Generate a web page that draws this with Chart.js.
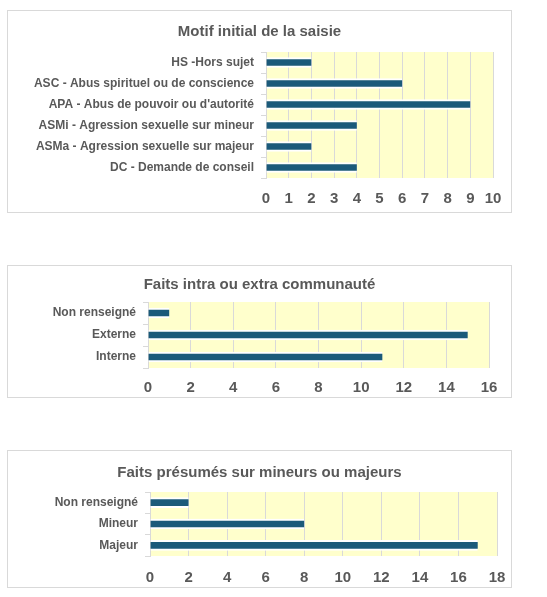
<!DOCTYPE html>
<html>
<head>
<meta charset="utf-8">
<script src="https://cdn.jsdelivr.net/npm/chart.js@4.4.1/dist/chart.umd.min.js"></script>
<style>
  body { margin: 0; background: #fff; width: 547px; height: 597px; position: relative; overflow: hidden; }
  .box { position: absolute; left: 7px; width: 503px; border: 1px solid #d9d9d9; background: #fff; }
  .box canvas { display: block; }
</style>
</head>
<body>
<div class="box" id="box1" style="top:10px;height:201px;"><canvas id="motifChart"></canvas></div>
<div class="box" id="box2" style="top:265px;height:131px;"><canvas id="communauteChart"></canvas></div>
<div class="box" id="box3" style="top:450px;height:136px;"><canvas id="mineursChart"></canvas></div>
<script>
// data
const motifLabels = ['HS -Hors sujet', 'ASC - Abus spirituel ou de conscience', "APA - Abus de pouvoir ou d'autorité",
    'ASMi - Agression sexuelle sur mineur', 'ASMa - Agression sexuelle sur majeur', 'DC - Demande de conseil'];
const motifValues = [2, 6, 9, 4, 2, 4];

const communauteLabels = ['Non renseigné', 'Externe', 'Interne'];
const communauteValues = [1, 15, 11];

const mineursLabels = ['Non renseigné', 'Mineur', 'Majeur'];
const mineursValues = [2, 8, 17];

const textColor = '#595959';
const fontFamily = '"Liberation Sans", Arial, sans-serif';

// yellow plot background
const plotBg = {
    id: 'plotBg',
    beforeDraw(chart) {
        const a = chart.chartArea;
        const c = chart.ctx;
        c.save();
        c.fillStyle = '#ffffcc';
        c.fillRect(a.left, a.top, a.right - a.left, a.bottom - a.top);
        c.restore();
    }
};

function makeChart(id, title, labels, values, cfg) {
    const ctx = document.getElementById(id).getContext('2d');
    return new Chart(ctx, {
        type: 'bar',
        data: {
            labels: labels,
            datasets: [{
                data: values,
                backgroundColor: '#1b5a7a',
                borderColor: '#ffffff',
                borderWidth: { top: 2, bottom: 2, left: 0, right: 0 },
                borderSkipped: false,
                barThickness: 10
            }]
        },
        plugins: [plotBg],
        options: {
            indexAxis: 'y',
            responsive: true,
            maintainAspectRatio: false,
            animation: false,
            layout: { padding: 0 },
            plugins: {
                legend: { display: false },
                tooltip: { enabled: false },
                title: {
                    display: true,
                    text: title,
                    color: textColor,
                    font: { family: fontFamily, size: 15, weight: 'bold' },
                    padding: { top: cfg.titleTop, bottom: cfg.titleBottom }
                }
            },
            scales: {
                x: {
                    min: 0,
                    max: cfg.max,
                    ticks: {
                        stepSize: cfg.step,
                        color: textColor,
                        padding: 0,
                        maxRotation: 0,
                        font: { family: fontFamily, size: 15, weight: 'bold' }
                    },
                    // invisible tick marks push the labels down (ticks.padding would also widen the right margin)
                    grid: { color: '#d9d9d9', drawTicks: true, tickLength: cfg.tickPad, tickColor: 'rgba(0,0,0,0)' },
                    border: { display: false },
                    afterFit(scale) { scale.height = cfg.xHeight; }
                },
                y: {
                    ticks: {
                        color: textColor,
                        padding: 7,
                        font: { family: fontFamily, size: 12, weight: 'bold' }
                    },
                    grid: { drawOnChartArea: false, drawTicks: true, tickLength: 5, color: '#d9d9d9' },
                    border: { display: true, color: '#d9d9d9' },
                    afterFit(scale) { scale.width = cfg.yWidth; }
                },
                // empty spacer on the right so the title stays centred on the box
                spacer: {
                    type: 'linear',
                    axis: 'y',
                    position: 'right',
                    ticks: { display: false },
                    grid: { display: false },
                    border: { display: false },
                    afterFit(scale) { scale.width = cfg.right; }
                }
            }
        }
    });
}

makeChart('motifChart', 'Motif initial de la saisie', motifLabels, motifValues,
    { max: 10, step: 1, right: 18, titleTop: 12, titleBottom: 11, xHeight: 34, tickPad: 12, yWidth: 258 });

makeChart('communauteChart', 'Faits intra ou extra communauté', communauteLabels, communauteValues,
    { max: 16, step: 2, right: 22, titleTop: 10, titleBottom: 8, xHeight: 29, tickPad: 11, yWidth: 140 });

makeChart('mineursChart', 'Faits présumés sur mineurs ou majeurs', mineursLabels, mineursValues,
    { max: 18, step: 2, right: 14, titleTop: 13, titleBottom: 10, xHeight: 31, tickPad: 13, yWidth: 142 });
</script>
</body>
</html>
